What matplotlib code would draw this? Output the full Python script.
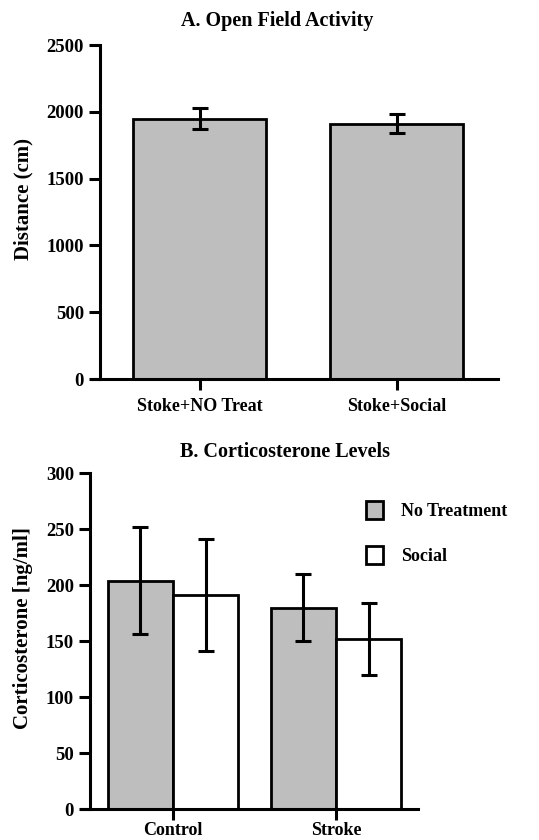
import matplotlib
matplotlib.use("Agg")
import matplotlib.pyplot as plt
from matplotlib.patches import Patch

plt.rcParams['font.family'] = ['Liberation Serif', 'DejaVu Serif']
plt.rcParams['font.weight'] = 'bold'

# Panel A data
groups_a = ['Stoke+NO Treat', 'Stoke+Social']
dist_mean = [1950, 1910]
dist_err = [82, 70]

# Panel B data
groups_b = ['Control', 'Stroke']
cort_notreat = [204, 180]
cort_notreat_err = [48, 30]
cort_social = [191, 152]
cort_social_err = [50, 32]

GREY = '#bebebe'
LW = 2.2
TICK_FS = 13.5
LABEL_FS = 15

fig = plt.figure(figsize=(5.39, 8.4), dpi=100)


def style_axes(ax, yaxis_x, xpad):
    for s in ['top', 'right']:
        ax.spines[s].set_visible(False)
    ax.spines['left'].set_position(('data', yaxis_x))
    ax.spines['left'].set_linewidth(LW)
    ax.spines['bottom'].set_linewidth(LW)
    ax.tick_params(axis='both', width=LW, length=8, labelsize=TICK_FS, direction='out')
    ax.tick_params(axis='x', pad=xpad, labelsize=13)
    for lab in ax.get_xticklabels() + ax.get_yticklabels():
        lab.set_fontweight('bold')


# ---- A. Open Field Activity
ax1 = fig.add_axes([0.1707, 0.5488, 0.7532, 0.3976])
x = list(range(len(groups_a)))
ax1.bar(x, dist_mean, width=0.675, color=GREY, edgecolor='black', linewidth=2,
        yerr=dist_err, error_kw=dict(ecolor='black', elinewidth=2.2, capsize=6, capthick=2.2))
ax1.set_xlim(-0.548, 1.513)
ax1.set_ylim(0, 2500)
ax1.set_yticks([0, 500, 1000, 1500, 2000, 2500])
ax1.set_xticks(x)
ax1.set_xticklabels(groups_a)
style_axes(ax1, -0.508, 6)
ax1.set_ylabel('Distance (cm)', fontsize=LABEL_FS, fontweight='bold')
ax1.yaxis.set_label_coords(-0.145, 0.54)
ax1.set_title('A. Open Field Activity', fontsize=14.5, fontweight='bold', pad=14, x=0.456)

# ---- B. Corticosterone Levels
ax2 = fig.add_axes([0.1521, 0.0369, 0.6234, 0.3996])
xb = list(range(len(groups_b)))
w = 0.40
ek = dict(ecolor='black', elinewidth=2.2, capsize=6, capthick=2.2)
ax2.bar([i - w / 2 for i in xb], cort_notreat, width=w, color=GREY, edgecolor='black',
        linewidth=2, yerr=cort_notreat_err, error_kw=ek)
ax2.bar([i + w / 2 for i in xb], cort_social, width=w, color='white', edgecolor='black',
        linewidth=2, yerr=cort_social_err, error_kw=ek)
ax2.set_xlim(-0.558, 1.503)
ax2.set_ylim(0, 300)
ax2.set_yticks([0, 50, 100, 150, 200, 250, 300])
ax2.set_xticks(xb)
ax2.set_xticklabels(groups_b)
style_axes(ax2, -0.509, 1)
ax2.set_ylabel('Corticosterone [ng/ml]', fontsize=LABEL_FS, fontweight='bold')
ax2.yaxis.set_label_coords(-0.146, 0.54)
ax2.set_title('B. Corticosterone Levels', fontsize=14.5, fontweight='bold', pad=12, x=0.604)

handles = [Patch(facecolor=GREY, edgecolor='black', linewidth=2),
           Patch(facecolor='white', edgecolor='black', linewidth=2)]
fig.legend(handles, ['No Treatment', 'Social'], loc='upper left',
           bbox_to_anchor=(0.649, 0.4225), frameon=False,
           handlelength=0.95, handleheight=1.1, labelspacing=1.45, handletextpad=1.0,
           prop={'weight': 'bold', 'size': 13})

fig.savefig('out.png', dpi=100)
